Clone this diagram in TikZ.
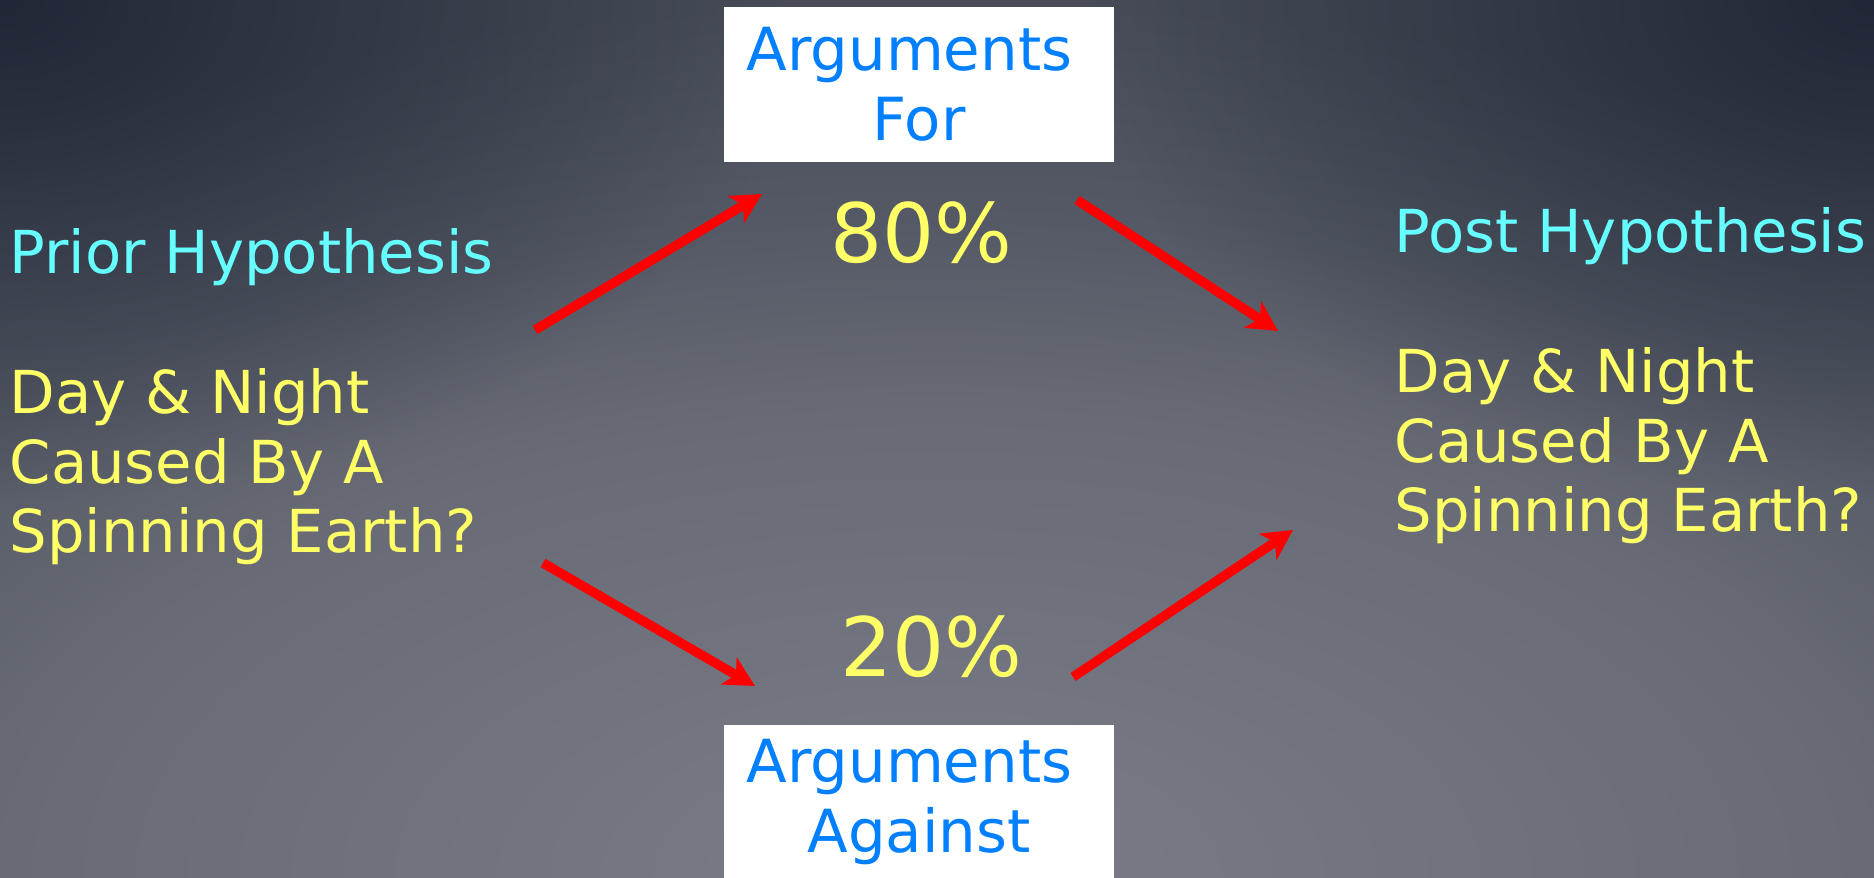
\documentclass[tikz,border=0pt]{standalone}
\usepackage{fontspec}
\setmainfont{DejaVu Sans}
\usepackage{tikz}
\usetikzlibrary{arrows.meta,fadings}
\usepackage{xcolor}
\definecolor{ArgBlue}{RGB}{0,128,255}
\definecolor{HypCyan}{RGB}{102,255,255}
\definecolor{HypYellow}{RGB}{255,255,102}
\definecolor{ArrRed}{RGB}{255,0,0}
\definecolor{bgA}{RGB}{122,125,135}
\definecolor{bgB}{RGB}{104,107,117}
\definecolor{bgC}{RGB}{84,89,101}
\definecolor{bgD}{RGB}{72,77,89}
\definecolor{bgE}{RGB}{20,26,42}
\pgfdeclareradialshading{slidebg}{\pgfpoint{0bp}{0bp}}{color(0bp)=(bgA); color(10.6bp)=(bgB); color(15bp)=(bgC); color(20bp)=(bgD); color(50bp)=(bgD)}
\tikzfading[name=cornerfade,inner color=transparent!25,outer color=transparent!100]

\begin{document}
\begin{tikzpicture}[
  argbox/.style={fill=white,minimum width=3.9cm,minimum height=1.55cm,
                 inner sep=0pt,align=center,text=ArgBlue,
                 font=\fontsize{16.9pt}{19.9pt}\selectfont},
  hypo/.style={anchor=base west,align=left,inner sep=0pt,text=HypYellow,
               font=\fontsize{16.85pt}{19.9pt}\selectfont},
  pct/.style={anchor=base,inner sep=0pt,text=HypYellow,
              font=\fontsize{23.3pt}{28pt}\selectfont},
  arr/.style={draw=ArrRed,line width=0.095cm,
              -{Stealth[length=0.3cm,width=0.31cm,inset=0.08cm]}},
  vign/.style={fill=bgE,path fading=cornerfade},
]
\clip (0,0) rectangle (18.74,8.78);
\shade[shading=slidebg] (9.37,0) ellipse [x radius=21.95, y radius=10.975];
\fill[vign] (0,8.78) ellipse [x radius=8, y radius=5];
\fill[vign] (18.74,8.78) ellipse [x radius=8, y radius=5];

\node[argbox] (for) at (9.19,7.935) {Arguments\kern.32em\\For};
\node[argbox] (against) at (9.19,0.755) {Arguments\kern.32em\\Against};

\node[hypo] (prior) at (0.09,3.25) {
  \textcolor{HypCyan}{Prior Hypothesis}\\[19.9pt]
  Day \& Night\\
  Caused By A\\
  Spinning Earth?
};
\node[hypo] (post) at (13.94,3.46) {
  \textcolor{HypCyan}{Post Hypothesis}\\[19.9pt]
  Day \& Night\\
  Caused By A\\
  Spinning Earth?
};

\node[pct] (pfor) at (9.21,6.15) {80\%};
\node[pct] (pagainst) at (9.31,2.01) {20\%};

\coordinate (priorhi) at (5.35,5.48);
\coordinate (forin) at (7.62,6.84);
\coordinate (forout) at (10.77,6.78);
\coordinate (posthi) at (12.78,5.47);
\coordinate (priorlo) at (5.43,3.15);
\coordinate (agin) at (7.55,1.92);
\coordinate (agout) at (10.73,2.01);
\coordinate (postlo) at (12.93,3.48);

\draw[arr] (priorhi) -- (forin);
\draw[arr] (forout) -- (posthi);
\draw[arr] (priorlo) -- (agin);
\draw[arr] (agout) -- (postlo);
\end{tikzpicture}
\end{document}
